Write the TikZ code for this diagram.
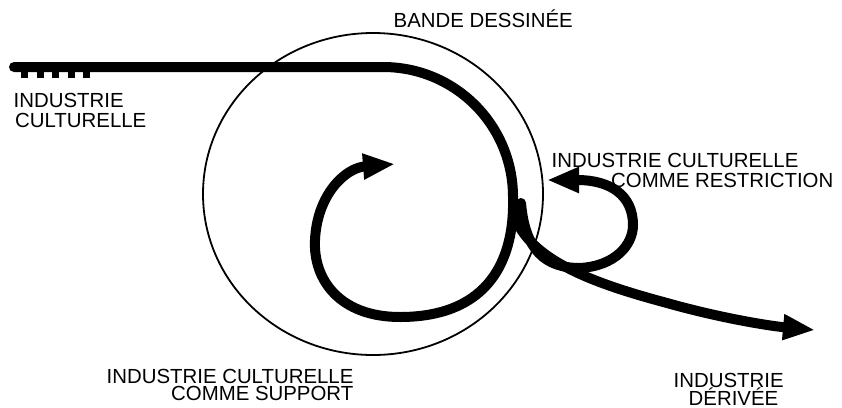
\documentclass[tikz,border=0pt]{standalone}
\usepackage{fontspec}
\setmainfont{Liberation Sans}
\usetikzlibrary{arrows.meta}
\tikzset{
  lbl/.style={font=\fontsize{20.4}{18.5}\selectfont, inner sep=0pt, anchor=base west},
  thick stroke/.style={line width=10pt, line cap=round, line join=round},
  tipA/.style={-{Triangle[length=32pt,width=24pt]}},
  frame/.style={line width=1.8pt},
}
\begin{document}
\begin{tikzpicture}[x=1pt,y=-1pt]
\useasboundingbox (0,0) rectangle (842,407);
% the "bande dessinee" circle
\draw[frame] (373,194) ellipse [x radius=170, y radius=161];
% coordinates
\coordinate (start) at (14,67);
\coordinate (bendA) at (383,67);
\coordinate (down) at (513,197);
\coordinate (spB) at (400,317);
\coordinate (spL) at (315,240);
\coordinate (spTip) at (395,164);
\coordinate (rStart) at (521,203);
\coordinate (rBot) at (580,268);
\coordinate (rRight) at (633,225);
\coordinate (rTip) at (547,180);
\coordinate (dStart) at (514,215);
\coordinate (dMid) at (667,303);
\coordinate (dTip) at (815,330);
% rail under the first line
\draw[line width=6pt, dash pattern=on 7pt off 8.5pt] (21,75) -- (93,75);
% main line and spiral
\draw[thick stroke, tipA] (start) -- (bendA)
  .. controls (455,67) and (513,125) .. (down)
  .. controls (515,270) and (480,317) .. (spB)
  .. controls (340,317) and (313,280) .. (spL)
  .. controls (317,195) and (345,168) .. (spTip);
% restriction loop
\draw[thick stroke, tipA] (rStart)
  .. controls (525,250) and (545,268) .. (rBot)
  .. controls (615,266) and (633,245) .. (rRight)
  .. controls (633,195) and (610,180) .. (rTip);
% derived industry branch
\draw[thick stroke, tipA] (dStart)
  .. controls (530,262) and (600,285) .. (dMid)
  .. controls (720,318) and (770,326) .. (dTip);
% labels
\node[lbl] (tl1) at (13.5,107) {INDUSTRIE};
\node[lbl] (tl2) at (15,127) {CULTURELLE};
\node[lbl] (bd) at (393.5,27) {BANDE DESSINÉE};
\node[lbl] (r1) at (551.5,167) {INDUSTRIE CULTURELLE};
\node[lbl] (r2) at (611,187) {COMME RESTRICTION};
\node[lbl] (s1) at (106.5,383) {INDUSTRIE CULTURELLE};
\node[lbl] (s2) at (171,400) {COMME SUPPORT};
\node[lbl] (d1) at (673.5,387) {INDUSTRIE};
\node[lbl] (d2) at (688.5,405) {DÉRIVÉE};
\end{tikzpicture}
\end{document}
